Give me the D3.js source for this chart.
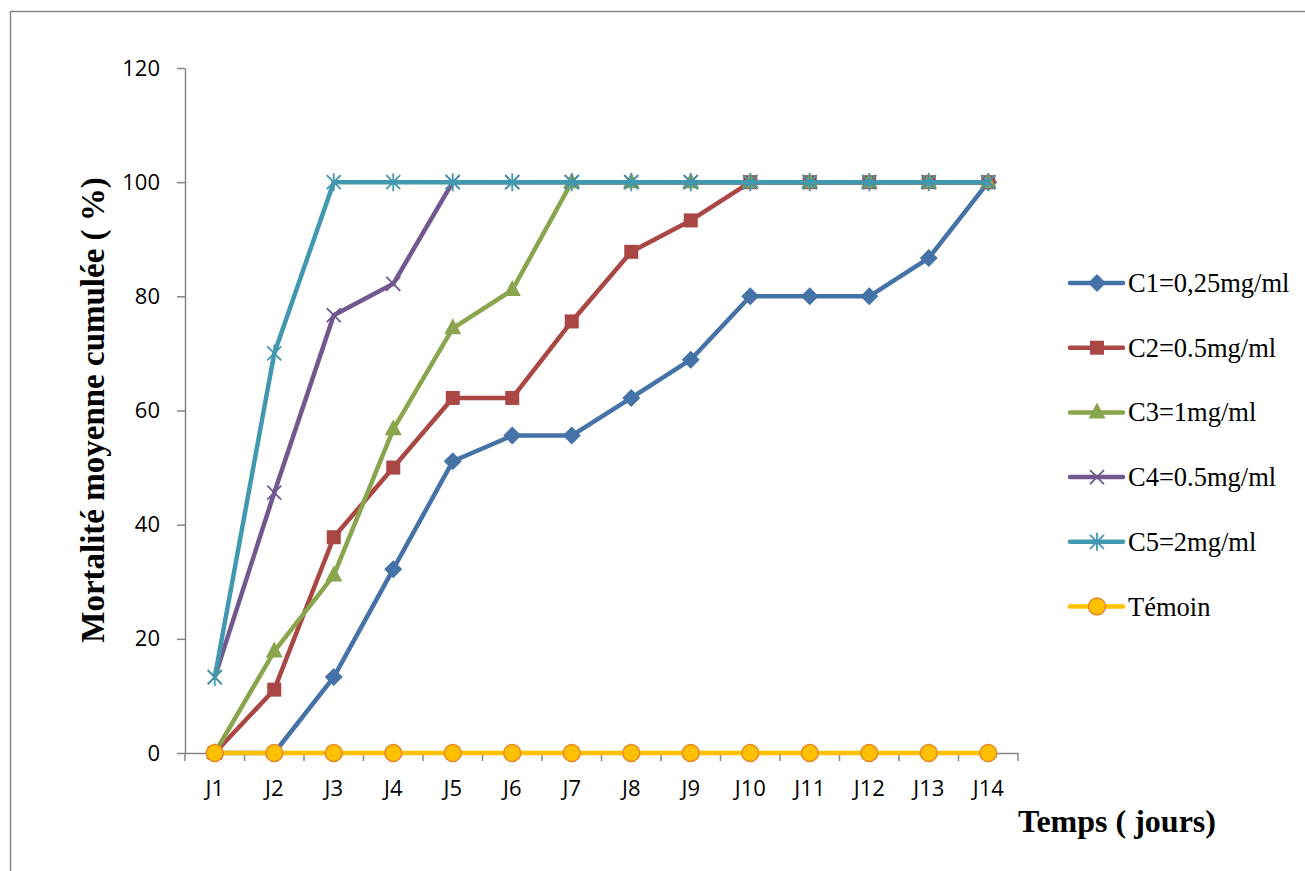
<!DOCTYPE html>
<html>
<head>
<meta charset="utf-8">
<script src="https://cdn.jsdelivr.net/npm/d3@7"></script>
<style>
  html, body { margin: 0; padding: 0; background: #fff; }
  svg { display: block; }
</style>
</head>
<body>
<svg id="chart" width="1305" height="871"></svg>
<script>
// Days of observation
const days = ["J1","J2","J3","J4","J5","J6","J7","J8","J9","J10","J11","J12","J13","J14"];

// Cumulative mean mortality (%) per concentration
const c1 = [0, 0, 13.3, 32.2, 51.1, 55.6, 55.6, 62.2, 68.9, 80, 80, 80, 86.7, 100];
const c2 = [0, 11.1, 37.8, 50, 62.2, 62.2, 75.6, 87.8, 93.3, 100, 100, 100, 100, 100];
const c3 = [0, 17.8, 31.1, 56.7, 74.4, 81.1, 100, 100, 100, 100, 100, 100, 100, 100];
const c4 = [13.3, 45.6, 76.7, 82.2, 100, 100, 100, 100, 100, 100, 100, 100, 100, 100];
const c5 = [13.3, 70, 100, 100, 100, 100, 100, 100, 100, 100, 100, 100, 100, 100];
const temoin = [0, 0, 0, 0, 0, 0, 0, 0, 0, 0, 0, 0, 0, 0];

const seriesNames = ["C1=0,25mg/ml", "C2=0.5mg/ml", "C3=1mg/ml", "C4=0.5mg/ml", "C5=2mg/ml", "Témoin"];
const seriesValues = [c1, c2, c3, c4, c5, temoin];
const yTicks = [0, 20, 40, 60, 80, 100, 120];

const styles = [
  { color: "#4572A7", marker: "diamond" },
  { color: "#AA4643", marker: "square" },
  { color: "#89A54E", marker: "triangle" },
  { color: "#71588F", marker: "cross" },
  { color: "#4198AF", marker: "star" },
  { color: "#FFC000", marker: "circle", stroke: "#E3892B" }
];

const svg = d3.select("#chart");

// Outer chart frame
svg.append("rect")
  .attr("x", 10.5).attr("y", 11.5)
  .attr("width", 1400).attr("height", 1000)
  .attr("fill", "none").attr("stroke", "#878787").attr("stroke-width", 1.5);

const plot = { left: 185, right: 1018, top: 68, bottom: 753 };

const x = d3.scaleBand().domain(days).range([plot.left, plot.right]).paddingInner(0).paddingOuter(0);
const xc = d => x(d) + x.bandwidth() / 2;
const y = d3.scaleLinear().domain([0, 120]).range([plot.bottom, plot.top]);

const axisColor = "#868686";
const tickFont = "'Open Sans', 'Noto Sans', sans-serif";
const serif = "'Liberation Serif', 'Times New Roman', serif";

// Y axis
const yAxis = svg.append("g")
  .attr("transform", `translate(${plot.left},0)`)
  .call(d3.axisLeft(y).tickValues(yTicks).tickSize(8).tickPadding(17).tickSizeOuter(0));
yAxis.select(".domain").attr("stroke", axisColor).attr("stroke-width", 1.5);
yAxis.selectAll(".tick line").attr("stroke", axisColor).attr("stroke-width", 1.5);
yAxis.selectAll(".tick text")
  .attr("fill", "#000").style("font-family", tickFont).style("font-size", "22px");

// X axis: labels centred on days, tick marks between days
const xAxis = svg.append("g")
  .attr("transform", `translate(0,${plot.bottom})`)
  .call(d3.axisBottom(x).tickSize(0).tickPadding(27).tickSizeOuter(0));
xAxis.select(".domain").attr("stroke", axisColor).attr("stroke-width", 1.5);
xAxis.selectAll(".tick text")
  .attr("fill", "#000").style("font-family", tickFont).style("font-size", "22px");
const bounds = days.map(d => x(d)).concat([x(days[days.length - 1]) + x.bandwidth()]);
xAxis.selectAll("line.sep").data(bounds).join("line")
  .attr("class", "sep")
  .attr("x1", d => d).attr("x2", d => d)
  .attr("y1", 0).attr("y2", 8)
  .attr("stroke", axisColor).attr("stroke-width", 1.5);

// Marker drawing
function drawMarker(g, type, st) {
  const c = st.color;
  switch (type) {
    case "diamond":
      g.append("path").attr("d", "M0,-9L9,0L0,9L-9,0Z").attr("fill", c);
      break;
    case "square":
      g.append("rect").attr("x", -7).attr("y", -7).attr("width", 14).attr("height", 14).attr("fill", c);
      break;
    case "triangle":
      g.append("path").attr("d", "M0,-10L8.5,6L-8.5,6Z").attr("fill", c);
      break;
    case "cross":
      g.append("path").attr("d", "M-7,-7L7,7M-7,7L7,-7").attr("stroke", c).attr("stroke-width", 1.8);
      break;
    case "star":
      g.append("path").attr("d", "M-7,-7L7,7M-7,7L7,-7M0,-9L0,9").attr("stroke", c).attr("stroke-width", 1.8);
      break;
    case "circle":
      g.append("circle").attr("r", 8.5).attr("fill", c).attr("stroke", st.stroke).attr("stroke-width", 1.5);
      break;
  }
}

const line = d3.line().x(d => xc(d.day)).y(d => y(d.v));

seriesValues.forEach((vals, i) => {
  const st = styles[i];
  const pts = days.map((d, j) => ({ day: d, v: vals[j] }));
  const g = svg.append("g").attr("class", "series");
  g.append("path").datum(pts)
    .attr("d", line)
    .attr("fill", "none")
    .attr("stroke", st.color)
    .attr("stroke-width", 4.5)
    .attr("stroke-linejoin", "round");
  pts.forEach(p => {
    const m = g.append("g").attr("transform", `translate(${xc(p.day)},${y(p.v)})`);
    drawMarker(m, st.marker, st);
  });
});

// Legend
const legendY0 = 283, legendStep = 64.7;
seriesNames.forEach((name, i) => {
  const st = styles[i];
  const g = svg.append("g").attr("transform", `translate(1070,${legendY0 + i * legendStep})`);
  g.append("line").attr("x1", 0).attr("x2", 53).attr("y1", 0).attr("y2", 0)
    .attr("stroke", st.color).attr("stroke-width", 4.5).attr("stroke-linecap", "round");
  const m = g.append("g").attr("transform", "translate(27,0)");
  drawMarker(m, st.marker, st);
  g.append("text").attr("x", 58).attr("y", 9)
    .style("font-family", serif)
    .style("font-size", "26.5px").attr("fill", "#000")
    .text(name);
});

// Axis titles
svg.append("text")
  .attr("transform", `translate(104,410) rotate(-90)`)
  .attr("text-anchor", "middle")
  .style("font-family", serif)
  .style("font-size", "33px").style("font-weight", "bold")
  .text("Mortalité moyenne cumulée ( %)");

svg.append("text")
  .attr("x", 1018).attr("y", 832)
  .style("font-family", serif)
  .style("font-size", "32px").style("font-weight", "bold")
  .text("Temps ( jours)");
</script>
</body>
</html>
